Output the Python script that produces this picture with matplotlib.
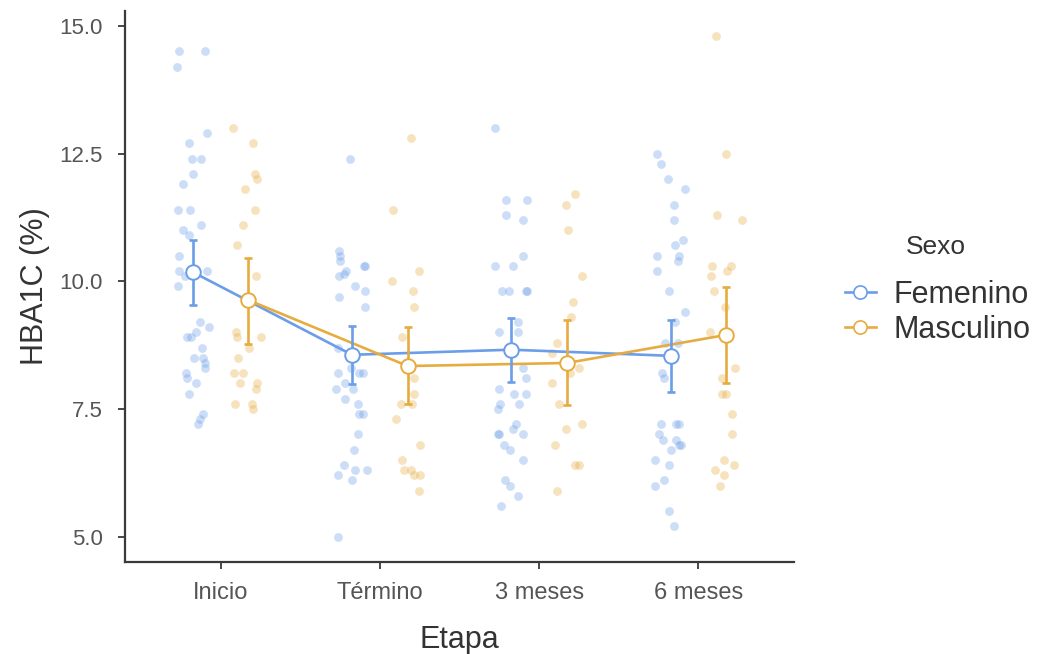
import matplotlib
matplotlib.use("Agg")
import matplotlib.pyplot as plt
from matplotlib.lines import Line2D
import numpy as np

plt.rcParams['font.family'] = ['Liberation Sans', 'DejaVu Sans']

# Study stages and sex groups
etapas = ["Inicio", "Término", "3 meses", "6 meses"]
sexos = ["Femenino", "Masculino"]

# Group means and 95% CI bounds of HbA1c (%)
media_fem = [10.18, 8.56, 8.66, 8.54]
ci_low_fem = [9.53, 7.99, 8.03, 7.84]
ci_high_fem = [10.81, 9.13, 9.29, 9.25]

media_mas = [9.63, 8.34, 8.40, 8.95]
ci_low_mas = [8.78, 7.60, 7.58, 8.01]
ci_high_mas = [10.46, 9.10, 9.24, 9.89]

# Individual HbA1c observations per stage, with their horizontal jitter
fem_inicio = [14.5, 14.5, 14.2, 12.9, 12.7, 12.4, 12.4, 12.1, 11.9, 11.4, 11.4, 11.1, 11.0,
              10.9, 10.5, 10.2, 10.2, 10.1, 9.9, 9.2, 9.1, 9.0, 8.9, 8.9, 8.7, 8.5, 8.5,
              8.4, 8.3, 8.2, 8.1, 8.0, 7.8, 7.4, 7.3, 7.2]
fem_inicio_jit = [-0.083, 0.078, -0.098, 0.092, -0.021, -0.004, 0.053, 0.0, -0.058, -0.094,
                  -0.016, 0.055, -0.058, -0.021, -0.083, -0.083, 0.088, -0.046, -0.094, 0.046,
                  0.1, 0.021, -0.035, -0.01, 0.056, 0.006, 0.063, 0.08, 0.08, -0.041, -0.035,
                  0.021, -0.021, 0.063, 0.046, 0.031]

mas_inicio = [13.0, 12.7, 12.1, 12.0, 11.8, 11.4, 11.1, 10.7, 10.1, 9.0, 8.9, 8.9, 8.7,
              8.5, 8.2, 8.2, 8.0, 8.0, 7.9, 7.6, 7.6, 7.5]
mas_inicio_jit = [-0.10, 0.03, 0.041, 0.055, -0.024, 0.041, -0.035, -0.072, 0.045, -0.077,
                  -0.07, 0.08, 0.003, -0.064, -0.091, -0.035, -0.055, 0.051, 0.045, -0.085,
                  0.024, 0.03]

fem_termino = [12.4, 10.6, 10.5, 10.4, 10.2, 10.15, 10.1, 10.3, 10.3, 9.9, 9.8, 9.7, 9.5,
               8.7, 8.3, 8.2, 8.2, 8.2, 8.0, 7.9, 7.9, 7.7, 7.6, 7.4, 7.4, 7.0, 6.7, 6.4,
               6.3, 6.3, 6.2, 6.1, 5.0]
fem_termino_jit = [-0.012, -0.079, -0.075, -0.075, -0.037, -0.048, -0.079, 0.078, 0.084,
                   0.019, 0.084, -0.079, 0.084, -0.09, -0.006, -0.09, 0.046, 0.072, -0.041,
                   -0.1, 0.004, -0.041, 0.036, 0.046, 0.067, 0.04, 0.011, -0.048, 0.019,
                   0.095, -0.085, -0.002, -0.085]

mas_termino = [12.8, 11.4, 10.2, 10.0, 9.8, 9.5, 8.9, 8.1, 7.8, 7.6, 7.6, 7.3, 6.8, 6.5,
               6.3, 6.3, 6.2, 6.2, 5.9]
mas_termino_jit = [0.018, -0.093, 0.07, -0.097, 0.033, 0.039, -0.038, 0.039, 0.039, -0.045,
                   0.024, -0.076, 0.075, -0.038, -0.024, 0.018, 0.039, 0.075, 0.07]

fem_3m = [13.0, 11.6, 11.6, 11.3, 11.2, 10.5, 10.3, 10.3, 9.8, 9.8, 9.8, 9.8, 9.2, 9.0, 9.0,
          8.3, 8.1, 7.9, 7.8, 7.8, 7.6, 7.5, 7.6, 7.2, 7.1, 7.0, 7.0, 7.0, 6.8, 6.7, 6.5,
          6.1, 6.0, 5.8, 5.6]
fem_3m_jit = [-0.1, -0.033, 0.096, -0.033, 0.075, 0.075, -0.1, 0.014, -0.061, -0.013, 0.092,
              0.096, 0.04, -0.075, 0.04, 0.071, 0.092, -0.075, 0.019, 0.092, -0.069, -0.082,
              0.046, 0.03, 0.014, 0.071, -0.086, -0.075, -0.048, -0.008, 0.075, -0.04,
              -0.008, 0.044, -0.065]

mas_3m = [11.7, 11.5, 11.0, 10.1, 9.6, 9.3, 8.8, 8.6, 8.3, 8.2, 8.0, 7.6, 7.2, 7.1, 6.8,
          6.4, 6.4, 5.9]
mas_3m_jit = [0.05, -0.004, 0.006, 0.096, 0.04, 0.023, -0.065, -0.092, 0.075, 0.017, -0.096,
              -0.05, 0.092, -0.008, -0.077, 0.05, 0.075, -0.065]

fem_6m = [12.5, 12.3, 12.0, 11.8, 11.5, 11.2, 10.8, 10.7, 10.5, 10.4, 10.5, 10.2, 9.8, 9.4,
          9.2, 8.8, 8.8, 8.2, 8.1, 7.2, 7.2, 7.2, 7.0, 6.9, 6.9, 6.8, 6.8, 6.7, 6.5, 6.4,
          6.1, 6.0, 5.5, 5.2]
fem_6m_jit = [-0.085, -0.06, -0.019, 0.092, 0.023, 0.019, 0.075, 0.03, 0.05, 0.044, -0.085,
              -0.085, -0.008, 0.09, 0.028, -0.033, 0.048, -0.056, -0.044, -0.06, 0.034,
              0.05, -0.071, -0.05, 0.034, 0.055, 0.065, 0.003, -0.098, -0.008, -0.044,
              -0.098, -0.008, 0.023]

mas_6m = [14.8, 12.5, 11.3, 11.2, 10.3, 10.3, 10.1, 10.2, 9.8, 9.5, 9.0, 8.3, 8.1, 7.8, 7.8,
          7.4, 7.0, 6.5, 6.3, 6.4, 6.2, 6.0]
mas_6m_jit = [-0.067, -0.004, -0.061, 0.096, -0.089, 0.027, -0.099, 0.006, -0.078, -0.009,
              -0.103, 0.054, -0.03, -0.03, -0.004, 0.033, 0.033, -0.015, -0.072, 0.048,
              -0.015, -0.042]

obs = {
    "Femenino": [(fem_inicio, fem_inicio_jit), (fem_termino, fem_termino_jit),
                 (fem_3m, fem_3m_jit), (fem_6m, fem_6m_jit)],
    "Masculino": [(mas_inicio, mas_inicio_jit), (mas_termino, mas_termino_jit),
                  (mas_3m, mas_3m_jit), (mas_6m, mas_6m_jit)],
}
medias = {"Femenino": media_fem, "Masculino": media_mas}
ci_low = {"Femenino": ci_low_fem, "Masculino": ci_low_mas}
ci_high = {"Femenino": ci_high_fem, "Masculino": ci_high_mas}

colores = {"Femenino": "#6B9DE8", "Masculino": "#E6AC40"}
dodge = {"Femenino": -0.175, "Masculino": 0.175}

W, H = 1044, 654
fig = plt.figure(figsize=(W / 100, H / 100), dpi=100)
ax = fig.add_axes([125 / W, 1 - 561.7 / H, (794 - 125) / W, (561.7 - 11) / H])

xpos = np.arange(1, len(etapas) + 1)

# jittered raw observations
for s in sexos:
    for i, (vals, jit) in enumerate(obs[s]):
        xs = xpos[i] + dodge[s] + np.asarray(jit)
        ax.scatter(xs, vals, s=40, color=colores[s], alpha=0.34, linewidths=0, zorder=1)

# mean lines, CI error bars and mean markers
for s in sexos:
    xs = xpos + dodge[s]
    m = np.asarray(medias[s])
    lo = m - np.asarray(ci_low[s])
    hi = np.asarray(ci_high[s]) - m
    ax.plot(xs, m, color=colores[s], lw=1.9, zorder=3)
    ax.errorbar(xs, m, yerr=[lo, hi], fmt='none', ecolor=colores[s], elinewidth=1.9,
                capsize=3, capthick=1.9, zorder=4)
    ax.plot(xs, m, 'o', ms=10.5, mfc='white', mec=colores[s], mew=1.4, zorder=5)

ax.set_xlim(0.4, 4.6)
ax.set_ylim(4.51, 15.29)
ax.set_xticks(xpos)
ax.set_xticklabels(etapas)
ax.set_yticks([5.0, 7.5, 10.0, 12.5, 15.0])
ax.set_yticklabels(["5.0", "7.5", "10.0", "12.5", "15.0"])

for side in ("top", "right"):
    ax.spines[side].set_visible(False)
for side in ("left", "bottom"):
    ax.spines[side].set_linewidth(1.6)
    ax.spines[side].set_color("#3a3a3a")

ax.tick_params(axis="both", length=5, width=1.3, color="#3a3a3a", labelcolor="#555555")
ax.tick_params(axis="x", labelsize=17, pad=9.5)
ax.tick_params(axis="y", labelsize=16, pad=11)

ax.set_xlabel("Etapa", fontsize=22, color="#333333", labelpad=15)
ax.set_ylabel("HBA1C (%)", fontsize=22, color="#333333", labelpad=6.5)

handles = [Line2D([0], [0], color=colores[s], lw=1.9, marker='o', ms=9.5, mfc='white',
                  mec=colores[s], mew=1.2) for s in sexos]
leg = fig.legend(handles, sexos, loc="upper left",
                 bbox_to_anchor=(845 / W, 1 - 280 / H), frameon=False, fontsize=22,
                 handlelength=1.0, handletextpad=0.6, labelspacing=0.15,
                 borderpad=0, borderaxespad=0)
for t in leg.get_texts():
    t.set_color("#333333")
fig.text(936 / W, 1 - 247 / H, "Sexo", fontsize=19, color="#333333",
         ha="center", va="center")

fig.savefig("out.png", dpi=100)
